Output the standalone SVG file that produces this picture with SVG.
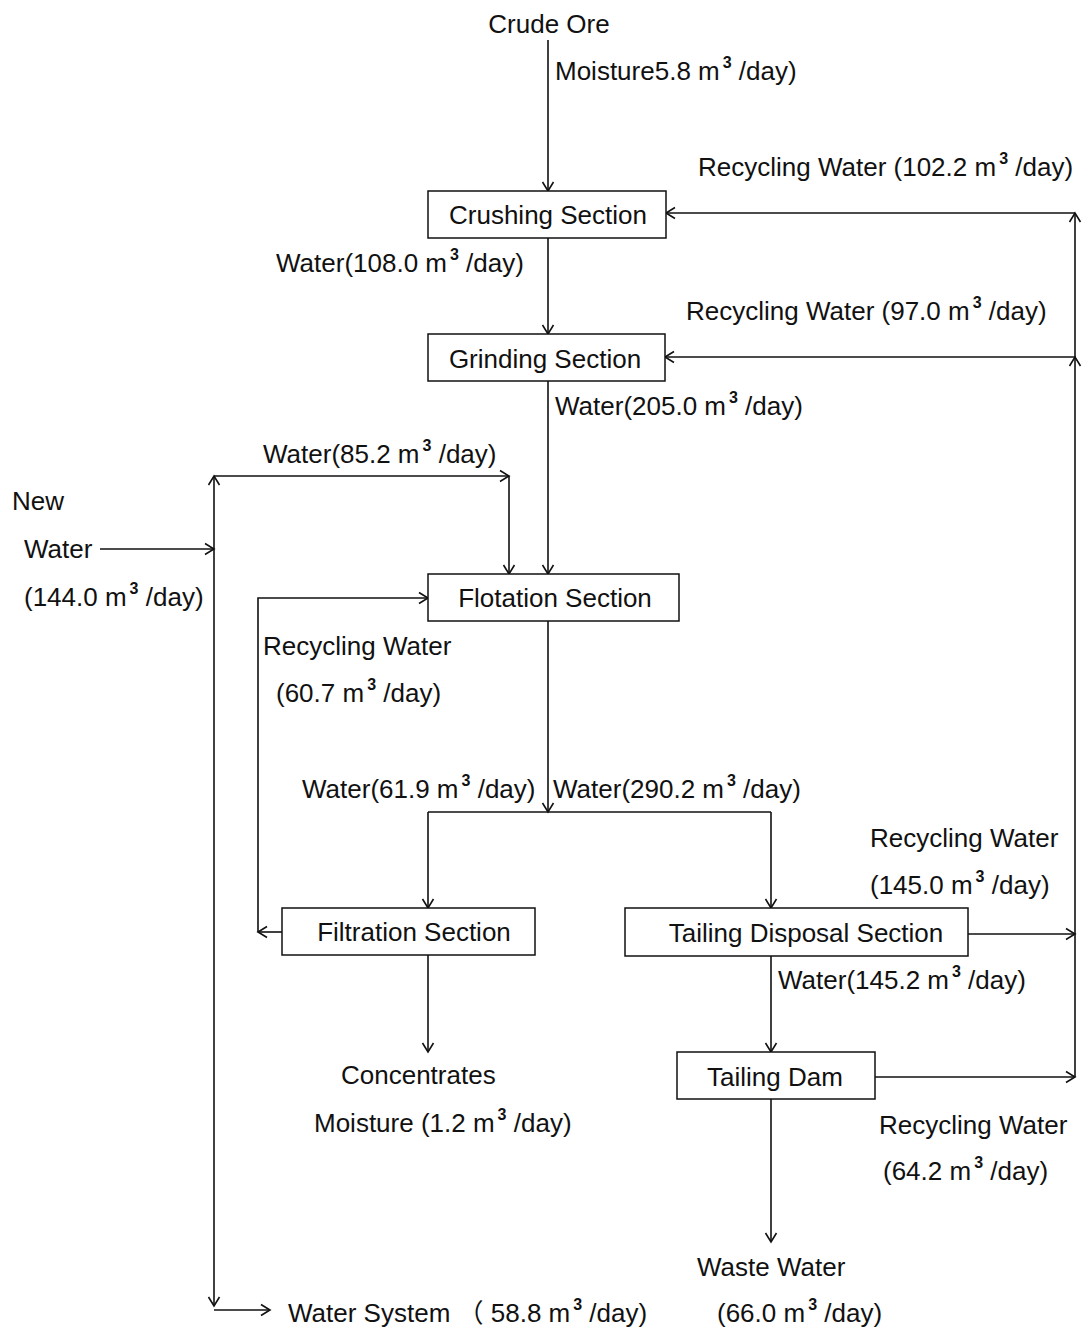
<svg xmlns="http://www.w3.org/2000/svg" width="1090" height="1334" viewBox="0 0 1090 1334">
<style>
text{font-family:"Liberation Sans",Arial,"Noto Sans CJK SC",sans-serif;font-size:26px;fill:#111}
.box{fill:#fff;stroke:#111;stroke-width:1.5}
.c{fill:none;stroke:#111;stroke-width:1.6}
.m{text-anchor:middle}
.s{font-size:16px;font-weight:bold}
</style>
<defs>
<marker id="a" markerUnits="userSpaceOnUse" markerWidth="14" markerHeight="14" refX="12" refY="7" orient="auto">
<path d="M3,1.5 L12,7 L3,12.5" fill="none" stroke="#111" stroke-width="1.6"/>
</marker>
</defs>
<rect width="1090" height="1334" fill="#fff"/>
<g id="connectors">
<path class="c" d="M548,40 V191" marker-end="url(#a)"/>
<path class="c" d="M548,238 V334" marker-end="url(#a)"/>
<path class="c" d="M548,381 V574" marker-end="url(#a)"/>
<path class="c" d="M214,476 H509" marker-end="url(#a)"/>
<path class="c" d="M509,476 V574" marker-end="url(#a)"/>
<path class="c" d="M214,549 V476" marker-end="url(#a)"/>
<path class="c" d="M214,549 V1306" marker-end="url(#a)"/>
<path class="c" d="M100,549 H214" marker-end="url(#a)"/>
<path class="c" d="M214,1310 H270" marker-end="url(#a)"/>
<path class="c" d="M282,932 H258" marker-end="url(#a)"/>
<path class="c" d="M258,932 V598 H428" marker-end="url(#a)"/>
<path class="c" d="M548,621 V812" marker-end="url(#a)"/>
<path class="c" d="M428,812 H771"/>
<path class="c" d="M428,812 V908" marker-end="url(#a)"/>
<path class="c" d="M771,812 V908" marker-end="url(#a)"/>
<path class="c" d="M428,955 V1052" marker-end="url(#a)"/>
<path class="c" d="M771,956 V1052" marker-end="url(#a)"/>
<path class="c" d="M771,1099 V1242" marker-end="url(#a)"/>
<path class="c" d="M968,934 H1075" marker-end="url(#a)"/>
<path class="c" d="M875,1077 H1075" marker-end="url(#a)"/>
<path class="c" d="M1075,1077 V357" marker-end="url(#a)"/>
<path class="c" d="M1075,357 V213" marker-end="url(#a)"/>
<path class="c" d="M1075,213 H666" marker-end="url(#a)"/>
<path class="c" d="M1075,357 H665" marker-end="url(#a)"/>
</g>
<g id="crushing"><rect class="box" x="428" y="191" width="238" height="47"/><text class="m" x="548" y="224">Crushing Section</text></g>
<g id="grinding"><rect class="box" x="428" y="334" width="237" height="47"/><text class="m" x="545" y="368">Grinding Section</text></g>
<g id="flotation"><rect class="box" x="428" y="574" width="251" height="47"/><text class="m" x="555" y="607">Flotation Section</text></g>
<g id="filtration"><rect class="box" x="282" y="908" width="253" height="47"/><text class="m" x="414" y="941">Filtration Section</text></g>
<g id="tailing-disposal"><rect class="box" x="625" y="908" width="343" height="48"/><text class="m" x="806" y="942">Tailing Disposal Section</text></g>
<g id="tailing-dam"><rect class="box" x="677" y="1052" width="198" height="47"/><text class="m" x="775" y="1086">Tailing Dam</text></g>
<g id="labels">
<text class="m" x="549" y="33">Crude Ore</text>
<text x="555" y="80">Moisture5.8 m<tspan class="s" dx="3" dy="-12">3</tspan><tspan dy="12"> /day)</tspan></text>
<text x="698" y="176">Recycling Water (102.2 m<tspan class="s" dx="3" dy="-12">3</tspan><tspan dy="12"> /day)</tspan></text>
<text x="276" y="272">Water(108.0 m<tspan class="s" dx="3" dy="-12">3</tspan><tspan dy="12"> /day)</tspan></text>
<text x="686" y="320">Recycling Water (97.0 m<tspan class="s" dx="3" dy="-12">3</tspan><tspan dy="12"> /day)</tspan></text>
<text x="555" y="415">Water(205.0 m<tspan class="s" dx="3" dy="-12">3</tspan><tspan dy="12"> /day)</tspan></text>
<text x="263" y="463">Water(85.2 m<tspan class="s" dx="3" dy="-12">3</tspan><tspan dy="12"> /day)</tspan></text>
<text x="12" y="510">New</text>
<text x="24" y="558">Water</text>
<text x="24" y="606">(144.0 m<tspan class="s" dx="3" dy="-12">3</tspan><tspan dy="12"> /day)</tspan></text>
<text x="263" y="655">Recycling Water</text>
<text x="276" y="702">(60.7 m<tspan class="s" dx="3" dy="-12">3</tspan><tspan dy="12"> /day)</tspan></text>
<text x="302" y="798">Water(61.9 m<tspan class="s" dx="3" dy="-12">3</tspan><tspan dy="12"> /day)</tspan></text>
<text x="553" y="798">Water(290.2 m<tspan class="s" dx="3" dy="-12">3</tspan><tspan dy="12"> /day)</tspan></text>
<text x="870" y="847">Recycling Water</text>
<text x="870" y="894">(145.0 m<tspan class="s" dx="3" dy="-12">3</tspan><tspan dy="12"> /day)</tspan></text>
<text x="778" y="989">Water(145.2 m<tspan class="s" dx="3" dy="-12">3</tspan><tspan dy="12"> /day)</tspan></text>
<text x="341" y="1084">Concentrates</text>
<text x="314" y="1132">Moisture (1.2 m<tspan class="s" dx="3" dy="-12">3</tspan><tspan dy="12"> /day)</tspan></text>
<text x="879" y="1134">Recycling Water</text>
<text x="883" y="1180">(64.2 m<tspan class="s" dx="3" dy="-12">3</tspan><tspan dy="12"> /day)</tspan></text>
<text x="697" y="1276">Waste Water</text>
<text x="717" y="1322">(66.0 m<tspan class="s" dx="3" dy="-12">3</tspan><tspan dy="12"> /day)</tspan></text>
<text x="288" y="1322">Water System （ 58.8 m<tspan class="s" dx="3" dy="-12">3</tspan><tspan dy="12"> /day)</tspan></text>
</g>
</svg>
